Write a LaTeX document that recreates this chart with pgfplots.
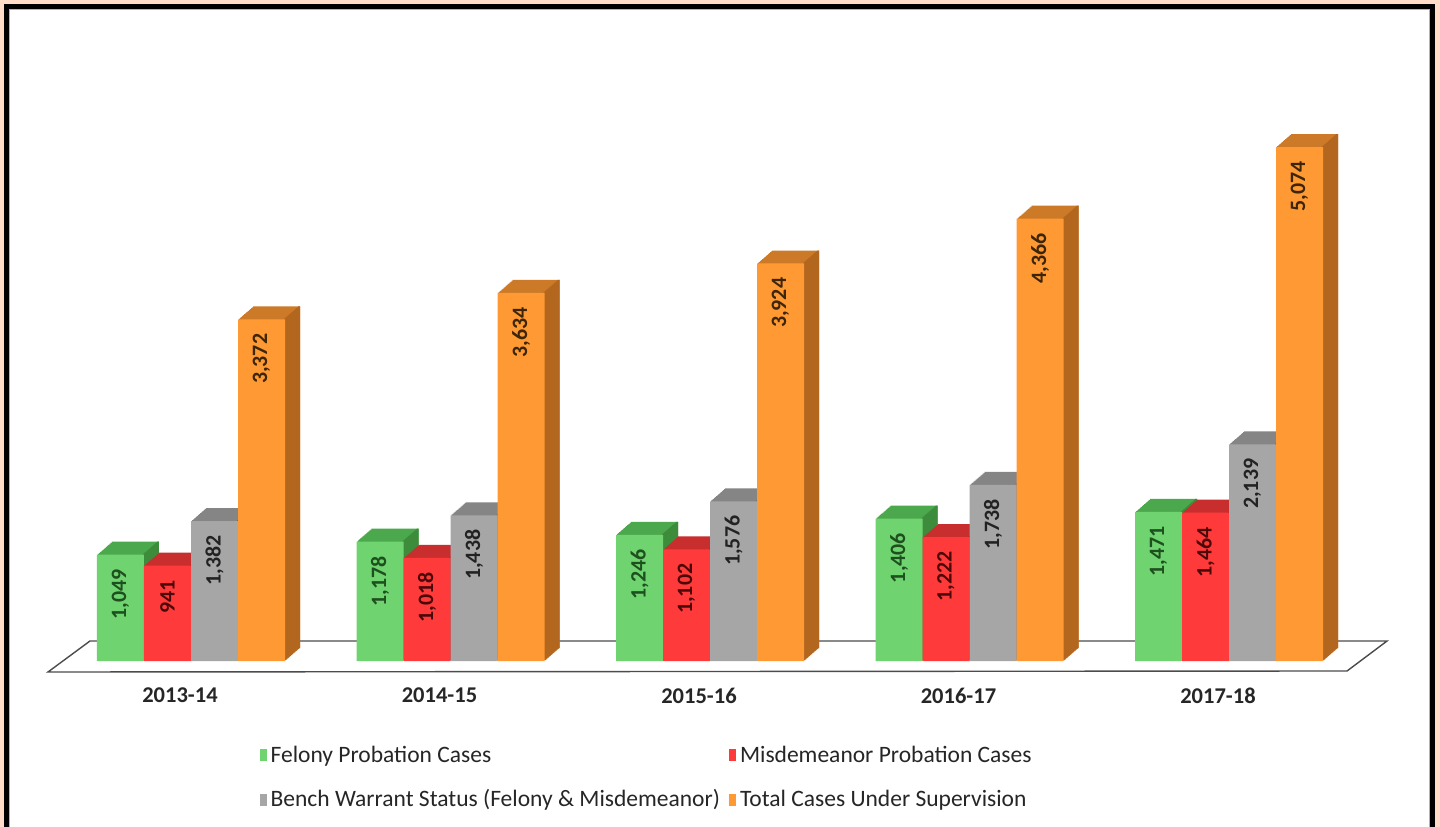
\documentclass[border=0pt]{standalone}
\usepackage{pgfplots}
\usepackage{pgfplotstable}
\pgfplotsset{compat=1.18}
\usepackage{fontspec}
\setmainfont{Carlito}

\definecolor{gF}{HTML}{6FD36F}
\definecolor{gT}{HTML}{4CA84C}
\definecolor{gS}{HTML}{3C8C3C}
\definecolor{gL}{HTML}{1E4F1E}
\definecolor{rF}{HTML}{FF3A3A}
\definecolor{rT}{HTML}{C92E2E}
\definecolor{rS}{HTML}{A82020}
\definecolor{rL}{HTML}{4A0808}
\definecolor{aF}{HTML}{A6A6A6}
\definecolor{aT}{HTML}{858585}
\definecolor{aS}{HTML}{6E6E6E}
\definecolor{aL}{HTML}{222222}
\definecolor{oF}{HTML}{FF9933}
\definecolor{oT}{HTML}{CC7A28}
\definecolor{oS}{HTML}{B3661E}
\definecolor{oL}{HTML}{3D2508}
\definecolor{peach}{HTML}{FFDDC8}

\pgfplotstableread{
x felony misd bench total
0 1049 941 1382 3372
1 1178 1018 1438 3634
2 1246 1102 1576 3924
3 1406 1222 1738 4366
4 1471 1464 2139 5074
}\data

% one 3D bar series: #1 column, #2 bar shift (bp), #3 top colour, #4 side colour
\newcommand{\backbars}[4]{%
  \pgfplotsinvokeforeach{1,...,15}{%
    \addplot[ybar, bar width=23.5bp, bar shift=#2bp, fill=#3, draw=none,
      xshift=##1*0.5bp, yshift=##1*0.4333bp, forget plot]
      table[x=x,y=#1]{\data};
  }%
  \pgfplotsinvokeforeach{1,...,15}{%
    \addplot[ybar, bar width=1bp, bar shift=#2bp+11.25bp, fill=#4, draw=none,
      xshift=##1*0.5bp, yshift=##1*0.4333bp, forget plot]
      table[x=x,y=#1]{\data};
  }%
}

\begin{document}
\begin{tikzpicture}
% frame
\fill[peach] (0,0) rectangle (720bp,413.5bp);
\fill[black] (2bp,0) rectangle (717.5bp,411.5bp);
\fill[white] (4.5bp,0) rectangle (715bp,409bp);
\draw[gray!60, line width=0.5bp] (4.75bp,0) -- (4.75bp,408.75bp) -- (714.75bp,408.75bp) -- (714.75bp,0);
% floor
\draw[gray!60!black, line width=0.7bp, fill=white]
  (24bp,77.5bp) -- (673.5bp,78bp) -- (693.5bp,93bp) -- (45bp,93bp) -- cycle;

\begin{axis}[
  at={(30.625bp,83bp)}, anchor=south west,
  scale only axis, width=648.75bp, height=303.9bp,
  xmin=-0.5, xmax=4.5, ymin=0, ymax=6000,
  axis line style={draw=none},
  ytick=\empty,
  xtick={0,1,2,3,4},
  xticklabels={2013-14,2014-15,2015-16,2016-17,2017-18},
  xtick style={draw=none},
  xticklabel style={font=\bfseries\fontsize{11.3}{12}\selectfont, text=black!85, xshift=-5.5bp, yshift=-10bp},
  clip=false,
  legend columns=2,
  legend cell align=left,
  legend style={at={(0.148,-0.124)}, anchor=north west, draw=none, fill=none,
    font=\fontsize{11.8}{13}\selectfont, text=black!85,
    nodes={inner xsep=2bp, inner ysep=2.5bp},
    /tikz/every even column/.append style={column sep=2.5bp},
    row sep=7.2bp},
  legend image code/.code={\fill[#1, draw=none] (0bp,-3bp) rectangle (3.5bp,3bp);},
  lab/.style 2 args={nodes near coords={\pgfmathprintnumber[assume math mode=true,1000 sep={,}]{\pgfplotspointmeta}},
    nodes near coords style={xshift=#2, rotate=90, anchor=east, inner xsep=7bp,
      font=\bfseries\fontsize{11}{11}\selectfont, text=#1}},
]
\backbars{felony}{-35.25}{gT}{gS}
\addplot[ybar, bar width=23.5bp, bar shift=-35.25bp, fill=gF, draw=none, lab={gL}{-35.25bp}] table[x=x,y=felony]{\data};
\addlegendentry{Felony Probation Cases}
\backbars{misd}{-11.75}{rT}{rS}
\addplot[ybar, bar width=23.5bp, bar shift=-11.75bp, fill=rF, draw=none, lab={rL}{-11.75bp}] table[x=x,y=misd]{\data};
\addlegendentry{Misdemeanor Probation Cases}
\backbars{bench}{11.75}{aT}{aS}
\addplot[ybar, bar width=23.5bp, bar shift=11.75bp, fill=aF, draw=none, lab={aL}{11.75bp}] table[x=x,y=bench]{\data};
\addlegendentry{Bench Warrant Status (Felony \& Misdemeanor)}
\backbars{total}{35.25}{oT}{oS}
\addplot[ybar, bar width=23.5bp, bar shift=35.25bp, fill=oF, draw=none, lab={oL}{35.25bp}] table[x=x,y=total]{\data};
\addlegendentry{Total Cases Under Supervision}
\end{axis}
\pgfresetboundingbox
\useasboundingbox (0,0) rectangle (720bp,413.5bp);
\end{tikzpicture}
\end{document}
